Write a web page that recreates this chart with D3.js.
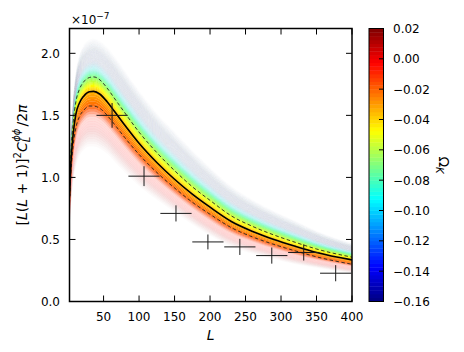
<!DOCTYPE html>
<html>
<head>
<meta charset="utf-8">
<script src="https://cdn.jsdelivr.net/npm/d3@7"></script>
<style>
  body { margin: 0; background: #fff; }
  text { font-family: "DejaVu Sans", sans-serif; fill: #000; }
</style>
</head>
<body>
<svg id="chart" width="464" height="352"></svg>
<script>
// multipole grid the curves are read at
var ells = [2, 4, 7, 11, 16, 22, 30, 36, 45, 55, 65, 80, 100, 125, 150, 175, 200, 230, 260, 290, 320, 350, 400];
// best fit and 1-sigma curves, units of 1e-7
var meanCl  = [0.85, 1.12, 1.34, 1.51, 1.60, 1.655, 1.69, 1.693, 1.67, 1.61, 1.535, 1.42, 1.275, 1.12, 0.985, 0.865, 0.76, 0.645, 0.565, 0.50, 0.445, 0.395, 0.335];
var upperCl = [0.91, 1.20, 1.43, 1.61, 1.71, 1.77, 1.805, 1.81, 1.785, 1.72, 1.64, 1.52, 1.365, 1.20, 1.055, 0.925, 0.815, 0.69, 0.605, 0.536, 0.477, 0.423, 0.357];
var lowerCl = [0.79, 1.04, 1.25, 1.40, 1.49, 1.54, 1.575, 1.575, 1.555, 1.50, 1.43, 1.32, 1.185, 1.04, 0.915, 0.80, 0.703, 0.595, 0.52, 0.46, 0.408, 0.36, 0.30];
// outer edges of the sample fan (omega_k = -0.16 and +0.02)
var fanTop    = [0.95, 1.30, 1.62, 1.85, 1.99, 2.07, 2.11, 2.12, 2.10, 2.05, 1.98, 1.86, 1.70, 1.52, 1.37, 1.22, 1.08, 0.93, 0.82, 0.73, 0.65, 0.57, 0.47];
var fanBottom = [0.55, 0.75, 0.95, 1.08, 1.17, 1.22, 1.25, 1.25, 1.23, 1.19, 1.13, 1.04, 0.93, 0.82, 0.72, 0.62, 0.53, 0.44, 0.385, 0.34, 0.30, 0.27, 0.225];

// binned reconstruction
var binLo    = [40, 85, 130, 175, 220, 265, 310, 355];
var binHi    = [84, 129, 174, 219, 264, 309, 354, 399];
var binMid   = [62, 107, 152, 197, 242, 287, 332, 377];
var binValue = [1.50, 1.01, 0.71, 0.48, 0.44, 0.37, 0.395, 0.228];
var binError = [0.10, 0.08, 0.065, 0.06, 0.065, 0.065, 0.065, 0.065];

var xTicks = [50, 100, 150, 200, 250, 300, 350, 400];
var yTicks = [0, 0.5, 1.0, 1.5, 2.0];
var cbTicks = [0.02, 0.00, -0.02, -0.04, -0.06, -0.08, -0.10, -0.12, -0.14, -0.16];
var omegaMin = -0.16, omegaMax = 0.02, omegaFit = -0.035;

var svg = d3.select("#chart");
var pLeft = 69.5, pRight = 352, pTop = 28.5, pBottom = 301.5;

var x = d3.scaleLinear().domain([2, 400]).range([pLeft, pRight]);
var y = d3.scaleLinear().domain([0, 2.2]).range([pBottom, pTop]);

// jet colormap
var jet = d3.scaleLinear()
  .domain([0, 0.125, 0.375, 0.625, 0.875, 1])
  .range(["#00007f", "#0000ff", "#00ffff", "#ffff00", "#ff0000", "#7f0000"])
  .interpolate(d3.interpolateRgb);
var omegaColor = function(w) { return jet((w - omegaMin) / (omegaMax - omegaMin)); };

function smooth(a, b, t) {
  var u = Math.max(0, Math.min(1, (t - a) / (b - a)));
  return u * u * (3 - 2 * u);
}

svg.append("clipPath").attr("id", "plotclip")
  .append("rect").attr("x", pLeft).attr("y", pTop).attr("width", pRight - pLeft).attr("height", pBottom - pTop);

// sample curves for each omega_k, between the fit and the fan edges
var step = 0.0025;
var omegas = d3.range(omegaMin, omegaMax + step / 2, step);
function curveFor(w) {
  return ells.map(function(l, i) {
    if (w <= omegaFit) {
      var t = (omegaFit - w) / (omegaFit - omegaMin);
      return meanCl[i] + t * (fanTop[i] - meanCl[i]);
    }
    var t2 = (w - omegaFit) / (omegaMax - omegaFit);
    return meanCl[i] + t2 * (fanBottom[i] - meanCl[i]);
  });
}

var fan = svg.append("g").attr("clip-path", "url(#plotclip)");
var area = d3.area()
  .x(function(d) { return x(d.l); })
  .y0(function(d) { return y(d.a); })
  .y1(function(d) { return y(d.b); })
  .curve(d3.curveMonotoneX);

for (var k = 0; k < omegas.length - 1; k++) {
  var wa = omegas[k], wb = omegas[k + 1], wm = (wa + wb) / 2;
  var ca = curveFor(wa), cb = curveFor(wb);
  var band = ells.map(function(l, i) { return {l: l, a: ca[i], b: cb[i]}; });
  var col, op;
  if (wm <= omegaFit) {
    var t = (omegaFit - wm) / (omegaFit - omegaMin);
    col = d3.interpolateRgb(omegaColor(wm), "#a9b3c6")(smooth(0.3, 0.6, t));
    op = 0.25 + 0.75 * (1 - smooth(0.22, 0.45, t));
    op *= Math.min(1, (1.02 - t) / 0.25);
  } else {
    var t3 = (wm - omegaFit) / (omegaMax - omegaFit);
    col = omegaColor(wm);
    op = 0.14 + 0.86 * (1 - smooth(0.2, 0.5, t3));
    op *= Math.min(1, (1.02 - t3) / 0.3);
  }
  fan.append("path").datum(band)
    .attr("d", area)
    .attr("fill", col)
    .attr("fill-opacity", op)
    .attr("stroke", col)
    .attr("stroke-opacity", op * 0.5)
    .attr("stroke-width", 0.3);
}

var line = d3.line()
  .x(function(d) { return x(d[0]); })
  .y(function(d) { return y(d[1]); })
  .curve(d3.curveMonotoneX);
var lines = svg.append("g").attr("clip-path", "url(#plotclip)");
lines.append("path").datum(d3.zip(ells, upperCl)).attr("d", line)
  .attr("fill", "none").attr("stroke", "#222").attr("stroke-width", 0.9).attr("stroke-dasharray", "3.5,2.5");
lines.append("path").datum(d3.zip(ells, lowerCl)).attr("d", line)
  .attr("fill", "none").attr("stroke", "#222").attr("stroke-width", 0.9).attr("stroke-dasharray", "3.5,2.5");
lines.append("path").datum(d3.zip(ells, meanCl)).attr("d", line)
  .attr("fill", "none").attr("stroke", "#000").attr("stroke-width", 1.6);

// binned points
var pts = svg.append("g").attr("clip-path", "url(#plotclip)");
binMid.forEach(function(m, i) {
  pts.append("line")
    .attr("x1", x(binLo[i])).attr("x2", x(binHi[i]))
    .attr("y1", y(binValue[i])).attr("y2", y(binValue[i]))
    .attr("stroke", "#1a1a1a").attr("stroke-width", 1);
  pts.append("line")
    .attr("x1", x(m)).attr("x2", x(m))
    .attr("y1", y(binValue[i] - binError[i])).attr("y2", y(binValue[i] + binError[i]))
    .attr("stroke", "#1a1a1a").attr("stroke-width", 1);
});

// axes, ticks inside on all four sides
var tl = 6;
var ax = svg.append("g");
xTicks.forEach(function(v) {
  ax.append("line").attr("x1", x(v)).attr("x2", x(v)).attr("y1", pBottom).attr("y2", pBottom - tl).attr("stroke", "#000");
  ax.append("line").attr("x1", x(v)).attr("x2", x(v)).attr("y1", pTop).attr("y2", pTop + tl).attr("stroke", "#000");
  ax.append("text").attr("x", x(v)).attr("y", 320.5).attr("text-anchor", "middle")
    .attr("font-size", 12).text(v);
});
yTicks.forEach(function(v) {
  ax.append("line").attr("x1", pLeft).attr("x2", pLeft + tl).attr("y1", y(v)).attr("y2", y(v)).attr("stroke", "#000");
  ax.append("line").attr("x1", pRight).attr("x2", pRight - tl).attr("y1", y(v)).attr("y2", y(v)).attr("stroke", "#000");
  ax.append("text").attr("x", 60).attr("y", y(v) + 4.5).attr("text-anchor", "end")
    .attr("font-size", 12).text(d3.format(".1f")(v));
});
ax.append("rect").attr("x", pLeft).attr("y", pTop).attr("width", pRight - pLeft).attr("height", pBottom - pTop)
  .attr("fill", "none").attr("stroke", "#000").attr("stroke-width", 1.5);

// offset text
var off = svg.append("text").attr("x", 71).attr("y", 24).attr("font-size", 12);
off.append("tspan").text("\u00d710");
off.append("tspan").attr("font-size", 9).attr("dy", -5).text("\u22127");

// x label
svg.append("text").attr("x", (pLeft + pRight) / 2).attr("y", 340).attr("text-anchor", "middle")
  .attr("font-size", 14).attr("font-style", "italic").text("L");

// y label
var yl = svg.append("text").attr("transform", "translate(27," + ((pTop + pBottom) / 2) + ") rotate(-90)")
  .attr("text-anchor", "middle").attr("font-size", 14);
yl.append("tspan").text("[");
yl.append("tspan").attr("font-style", "italic").text("L");
yl.append("tspan").text("(");
yl.append("tspan").attr("font-style", "italic").text("L");
yl.append("tspan").text(" + 1)]");
yl.append("tspan").attr("font-size", 10).attr("dy", -6).text("2");
yl.append("tspan").attr("font-style", "italic").attr("dy", 6).text("C");
yl.append("tspan").attr("font-style", "italic").attr("font-size", 10).attr("dy", 3).text("L");
yl.append("tspan").attr("font-style", "italic").attr("font-size", 10).attr("dx", -5).attr("dy", -10).text("\u03d5\u03d5");
yl.append("tspan").attr("dy", 7).attr("dx", 2).text("/2");
yl.append("tspan").attr("font-style", "italic").text("\u03c0");

// colorbar
var cbLeft = 369, cbRight = 383.5;
var cy = d3.scaleLinear().domain([omegaMin, omegaMax]).range([pBottom, pTop]);
var cbar = svg.append("g");
for (var j = 0; j < omegas.length - 1; j++) {
  cbar.append("rect")
    .attr("x", cbLeft).attr("width", cbRight - cbLeft)
    .attr("y", cy(omegas[j + 1])).attr("height", cy(omegas[j]) - cy(omegas[j + 1]) + 0.4)
    .attr("fill", omegaColor((omegas[j] + omegas[j + 1]) / 2));
}
cbTicks.forEach(function(v) {
  cbar.append("line").attr("x1", cbRight - 4.5).attr("x2", cbRight).attr("y1", cy(v)).attr("y2", cy(v)).attr("stroke", "#000");
  cbar.append("text").attr("x", 393).attr("y", cy(v) + 4.5).attr("font-size", 12)
    .text(d3.format(".2f")(v).replace("-", "\u2212"));
});
cbar.append("rect").attr("x", cbLeft).attr("y", pTop).attr("width", cbRight - cbLeft).attr("height", pBottom - pTop)
  .attr("fill", "none").attr("stroke", "#000").attr("stroke-width", 1);

var ol = svg.append("text").attr("transform", "translate(439," + ((pTop + pBottom) / 2) + ") rotate(90)")
  .attr("text-anchor", "middle").attr("font-size", 14);
ol.append("tspan").text("\u03a9");
ol.append("tspan").attr("font-size", 10).attr("font-style", "italic").attr("dy", 3).text("K");
</script>
</body>
</html>
